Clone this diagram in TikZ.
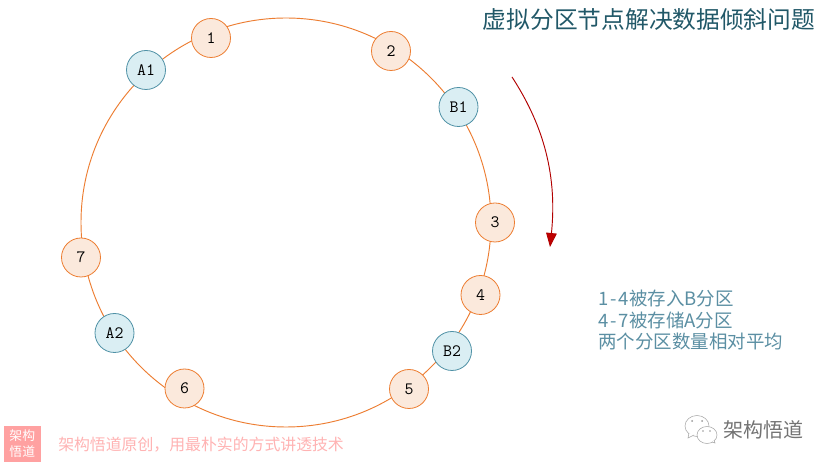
\documentclass[tikz,border=0pt]{standalone}
\usepackage{fontspec}
\usetikzlibrary{arrows.meta}
\setmainfont{Noto Sans CJK SC}
\definecolor{ringc}{HTML}{ED7D31}
\definecolor{peach}{HTML}{FBE9DC}
\definecolor{bluef}{HTML}{DAEEF3}
\definecolor{bluel}{HTML}{4F91A6}
\definecolor{titlec}{HTML}{215868}
\definecolor{notec}{HTML}{5B8FA3}
\definecolor{pinkc}{HTML}{FFB3B3}
\tikzset{
  ringnode/.style={circle,draw=ringc,line width=0.6pt,minimum size={39*0.75pt},inner sep=0pt,fill=peach,font=\ttfamily\fontsize{13}{14}\selectfont},
  partnode/.style={circle,draw=bluel,line width=0.6pt,minimum size={39*0.75pt},inner sep=0pt,fill=bluef,font=\ttfamily\fontsize{13}{14}\selectfont},
  notetext/.style={anchor=west,text=notec,font=\fontsize{13.85}{16}\selectfont,inner sep=0pt},
  iconline/.style={draw=black!35,line width=0.4pt,fill=white},
}
\begin{document}
\begin{tikzpicture}[x=0.75pt,y=-0.75pt]
\useasboundingbox (0,0) rectangle (829,466);
\fill[white] (0,0) rectangle (829,466);
% ring
\draw[ringc,line width=0.7pt] (286,222.5) ellipse (205 and 204.5);
% nodes
\node[ringnode] (n1) at (211,38) {1};
\node[ringnode] (n2) at (391,51) {2};
\node[partnode] (b1) at (458.5,107) {B1};
\node[ringnode] (n3) at (495,222.5) {3};
\node[ringnode] (n4) at (480.5,295) {4};
\node[partnode] (b2) at (452,351) {B2};
\node[ringnode] (n5) at (409,389) {5};
\node[ringnode] (n6) at (184.5,388.5) {6};
\node[partnode] (a2) at (114.5,333) {A2};
\node[ringnode] (n7) at (81,257.5) {7};
\node[partnode] (a1) at (146,70) {A1};
% title
\node[anchor=center,inner sep=0pt,text=titlec,font=\fontsize{17.8}{20}\selectfont] (title) at (649,20) {虚拟分区节点解决数据倾斜问题};
% rotation arrow
\coordinate (arrS) at (512,77);
\coordinate (arrE) at (550,247);
\draw[draw=red!70!black,line width=0.7pt,-{Triangle[length=10.5pt,width=8pt,fill=red!75!black]}] (arrS) .. controls (540,120) and (558,170) .. (arrE);
% notes
\node[notetext] (l1) at (598,299) {1\kern1.5pt-\kern1.5pt4被存入B分区};
\node[notetext] (l2) at (598,320) {4\kern1.5pt-\kern1.5pt7被存储A分区};
\node[notetext] (l3) at (598,342) {两个分区数量相对平均};
% watermark
\fill[pinkc!90!red] (4,426) rectangle (40.5,462);
\node[inner sep=0pt,text=white,align=center,font=\fontsize{9.6}{12}\selectfont] (wm) at (22.3,444) {架构\\悟道};
\node[anchor=west,inner sep=0pt,text=pinkc,font=\fontsize{11.9}{14}\selectfont] (wmt) at (58,444.5) {架构悟道原创\symbol{"FF0C}用最朴实的方式讲透技术};
% wechat mark
\draw[iconline] (697,426) ellipse (12 and 10.5);
\draw[iconline] (689,433) -- (688,438) -- (694,435);
\draw[iconline] (707,435) ellipse (10 and 8.5);
\draw[iconline] (712,442) -- (715,443) -- (714,440);
\fill[black!40] (692,421) circle (1) (702,421) circle (1) (703,431) circle (0.8) (710,431) circle (0.8);
\node[anchor=west,inner sep=0pt,text=black!55,font=\fontsize{15}{18}\selectfont] (wx) at (723,430) {架构悟道};
\end{tikzpicture}
\end{document}
